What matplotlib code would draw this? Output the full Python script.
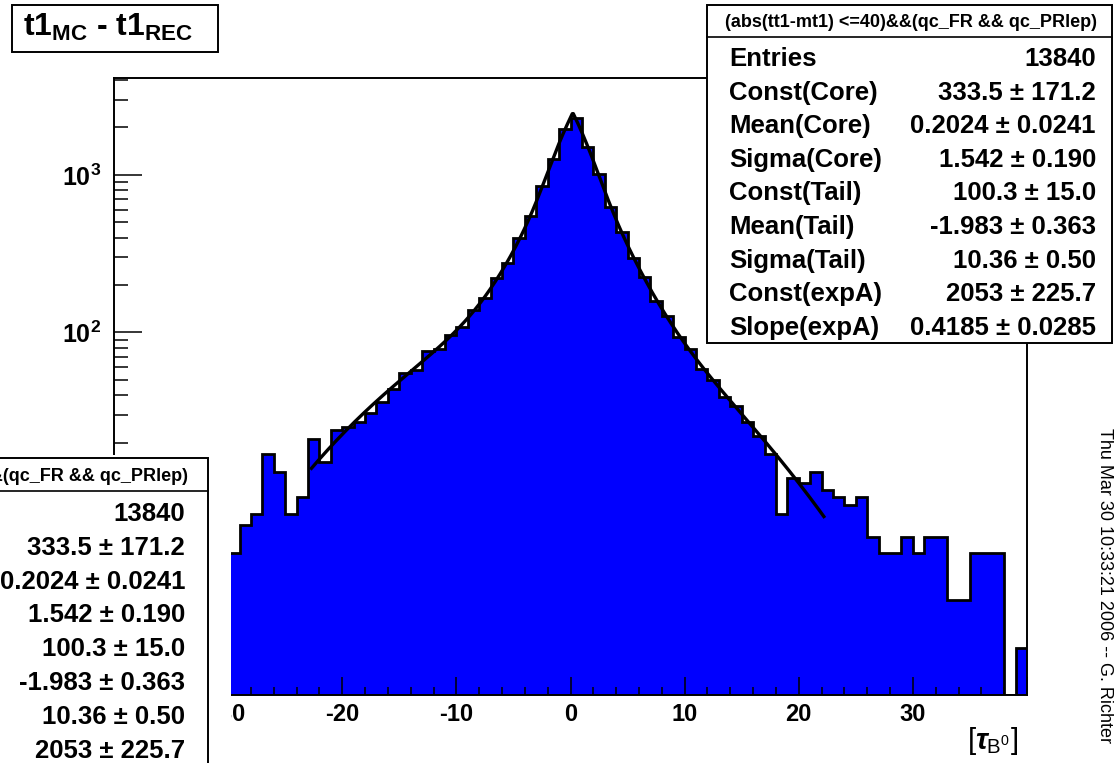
import numpy as np
import matplotlib
matplotlib.use('Agg')
import matplotlib.pyplot as plt
from matplotlib.patches import Rectangle
from matplotlib.lines import Line2D
from matplotlib.ticker import MultipleLocator, LogLocator, NullFormatter

plt.rcParams['font.family'] = ['Liberation Sans', 'DejaVu Sans']
plt.rcParams['font.weight'] = 'bold'
plt.rcParams['axes.unicode_minus'] = False
plt.rcParams['mathtext.fontset'] = 'custom'
plt.rcParams['mathtext.rm'] = 'Liberation Sans:bold'
plt.rcParams['mathtext.it'] = 'Liberation Sans:bold:italic'
plt.rcParams['mathtext.bf'] = 'Liberation Sans:bold'

# histogram t1_MC - t1_REC, 80 bins from -40 to 40 (units of tau_B0)
x_lo, x_hi, n_bins = -40, 40, 80
counts = [
    3, 2, 4, 3, 5, 4, 6, 5, 4, 6,                      # -40 .. -31
    4, 6, 7, 17, 13, 7, 9, 21, 15, 24,                 # -30 .. -21
    25, 27, 31, 36, 44, 55, 58, 76, 78, 97,            # -20 .. -11
    108, 139, 165, 222, 276, 395, 548, 850, 1270, 1960,  # -10 .. -1
    2290, 1500, 1010, 625, 435, 296, 224, 158, 127, 93,  # 0 .. 9
    79, 59, 50, 39, 34, 27, 22, 17, 7, 12,             # 10 .. 19
    11, 13, 10, 9, 8, 9, 5, 4, 4, 5,                   # 20 .. 29
    4, 5, 5, 2, 2, 4, 4, 4, 0, 1,                      # 30 .. 39
]

# fit result
const_core, mean_core, sigma_core = 333.5, 0.2024, 1.542
const_tail, mean_tail, sigma_tail = 100.3, -1.983, 10.36
const_expa, slope_expa = 2053, 0.4185
fit_lo, fit_hi = -22.7, 22.2

stat_names = ['Entries', 'Const(Core)', 'Mean(Core)', 'Sigma(Core)', 'Const(Tail)',
              'Mean(Tail)', 'Sigma(Tail)', 'Const(expA)', 'Slope(expA)']
stat_values = ['13840', '333.5 \u00b1 171.2', '0.2024 \u00b1 0.0241', '1.542 \u00b1 0.190',
               '100.3 \u00b1 15.0', '-1.983 \u00b1 0.363', '10.36 \u00b1 0.50',
               '2053 \u00b1 225.7', '0.4185 \u00b1 0.0285']
cut_text = '(abs(tt1-mt1) <=40)&&(qc_FR && qc_PRlep)'
y_min, y_max = 0.5, 4120

W, H = 1117, 763
def fx(px):
    return px / W
def fy(py):
    return 1 - py / H

fig = plt.figure(figsize=(W / 100, H / 100), dpi=100)
ax = fig.add_axes([fx(114), fy(695), fx(1027) - fx(114), fy(78) - fy(695)])

edges = np.linspace(x_lo, x_hi, n_bins + 1)
vals = np.clip(np.array(counts, dtype=float), y_min, None)
ax.stairs(vals, edges, baseline=y_min, fill=True, color='#0000ff', lw=0)
ax.stairs(vals, edges, baseline=y_min, color='black', lw=2.0)

def resolution(x):
    core = const_core * np.exp(-0.5 * ((x - mean_core) / sigma_core) ** 2)
    tail = const_tail * np.exp(-0.5 * ((x - mean_tail) / sigma_tail) ** 2)
    expa = const_expa * np.exp(-slope_expa * np.abs(x - mean_core))
    return core + tail + expa

xf = np.linspace(fit_lo, fit_hi, 500)
ax.plot(xf, resolution(xf), color='black', lw=2.4)

ax.set_yscale('log')
ax.set_xlim(x_lo, x_hi)
ax.set_ylim(y_min, y_max)

# labels under the lower left stat box stay empty
xticks = list(range(x_lo, x_hi + 1, 10))
ax.set_xticks(xticks, labels=[str(t) if x_lo < t < x_hi else '' for t in xticks])
ax.xaxis.set_minor_locator(MultipleLocator(2))
yticks = [1, 10, 100, 1000]
ax.set_yticks(yticks, labels=['', '', r'$\mathdefault{10^{2}}$', r'$\mathdefault{10^{3}}$'])
ax.yaxis.set_minor_locator(LogLocator(base=10, subs=range(2, 10)))
ax.yaxis.set_minor_formatter(NullFormatter())
ax.tick_params(axis='x', which='major', direction='in', length=13, width=1.1,
               labelsize=17, pad=6, top=False)
ax.tick_params(axis='x', which='minor', direction='in', length=6, width=1.1, top=False)
ax.tick_params(axis='y', which='major', direction='in', length=20, width=1.1,
               labelsize=18, pad=9, right=False)
ax.tick_params(axis='y', which='minor', direction='in', length=10, width=1.1, right=False)
for s in ax.spines.values():
    s.set_linewidth(1.4)

ax.set_xlabel(r'$\mathdefault{[}\tau_{\mathdefault{B}^{\mathdefault{0}}}\mathdefault{]}$',
              fontsize=21, loc='right')
ax.xaxis.set_label_coords((1018 - 114) / 913, (695 - 741) / 617)
ax.xaxis.label.set_verticalalignment('center')

# title box
fig.add_artist(Rectangle((fx(12), fy(52)), fx(218) - fx(12), fy(5) - fy(52),
                         transform=fig.transFigure, facecolor='white',
                         edgecolor='black', lw=1.4, zorder=3))
fig.text(fx(108), fy(36), r'$\mathdefault{t1_{MC}}$ - $\mathdefault{t1_{REC}}$', fontsize=23,
         ha='center', va='baseline', zorder=4)

def stats_box(left, right, top, bottom, sep, header_x, label_x, value_x, row0, step, n_rows,
              with_names=True):
    fig.add_artist(Rectangle((fx(left), fy(bottom)), fx(right) - fx(left), fy(top) - fy(bottom),
                             transform=fig.transFigure, facecolor='white',
                             edgecolor='black', lw=1.4, zorder=3))
    fig.add_artist(Line2D([fx(left), fx(right)], [fy(sep), fy(sep)],
                          transform=fig.transFigure, color='black', lw=1.2, zorder=4))
    fig.text(fx(header_x), fy(sep - 10), cut_text, fontsize=13, ha='center',
             va='baseline', zorder=5)
    for i in range(n_rows):
        yb = row0 + i * step + 9
        if with_names:
            fig.text(fx(label_x), fy(yb), stat_names[i], fontsize=18.5, ha='left',
                     va='baseline', zorder=5)
        fig.text(fx(value_x), fy(yb), stat_values[i], fontsize=18.5, ha='right',
                 va='baseline', zorder=5)

# second copy of the stat box over the lower left corner, its names lie off the canvas
fig.add_artist(Rectangle((0, 0), fx(231), fy(455), transform=fig.transFigure,
                         facecolor='white', edgecolor='none', zorder=2))
stats_box(-200, 208, 458, 800, 491, 2, -178, 185, 512, 33.8, 8, with_names=False)

stats_box(707, 1112, 5, 343, 37, 911, 729, 1096, 57, 33.6, 9)

fig.text(fx(1105), fy(586), 'Thu Mar 30 10:33:21 2006 -- G. Richter', fontsize=13,
         fontweight='normal', rotation=270, ha='center', va='center')

fig.savefig('out.png', dpi=100)
